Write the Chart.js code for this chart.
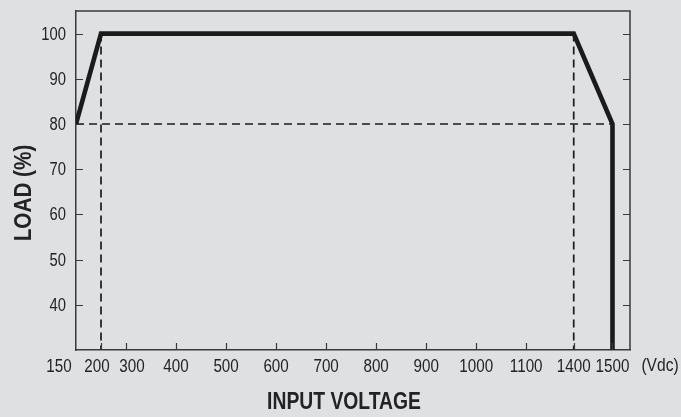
<!DOCTYPE html>
<html>
<head>
<meta charset="utf-8">
<script src="https://cdn.jsdelivr.net/npm/chart.js@4/dist/chart.umd.min.js"></script>
<style>
  html,body{margin:0;padding:0;background:#dfe0e2;}
</style>
</head>
<body>
<canvas id="chart" width="681" height="417"></canvas>
<script>
// derating curve (input voltage vs load)
const curveVolt = [150, 200, 1400, 1500, 1500];
const curveLoad = [80, 100, 100, 80, 30];

// dashed guide lines
const guide80Volt = [150, 1500];
const guide80Load = [80, 80];
const guide200Volt = [200, 200];
const guide200Load = [100, 30];
const guide1400Volt = [1400, 1400];
const guide1400Load = [100, 30];

// axis ticks
const xTickVolts = [150, 200, 300, 400, 500, 600, 700, 800, 900, 1000, 1100, 1400, 1500];
const yTickVals = [40, 50, 60, 70, 80, 90, 100];

// the voltage axis is not linear: each tick sits on its own stop
const xStops = [0, 1, 2, 4, 6, 8, 10, 12, 14, 16, 18, 19.9, 21.45];
const xStopMax = 22.15;

function voltToX(v){
  for(let i=0;i<xTickVolts.length-1;i++){
    const a=xTickVolts[i], b=xTickVolts[i+1];
    if(v>=a && v<=b) return xStops[i]+(v-a)/(b-a)*(xStops[i+1]-xStops[i]);
  }
  return v<xTickVolts[0] ? xStops[0] : xStops[xStops.length-1];
}
const pts = (vs, ls) => vs.map((v,i)=>({x:voltToX(v), y:ls[i]}));

const INK = "#1b1b1c";
const FRAME = "#3a3a3c";
const TEXT = "#232325";
const FONT = "'Liberation Sans', Arial, sans-serif";

// no narrow font installed, so squeeze the regular one
function narrowText(ctx, txt, x, y, font, align, sx){
  ctx.save();
  ctx.font = font;
  ctx.textAlign = align;
  ctx.textBaseline = "middle";
  ctx.translate(x, y);
  ctx.scale(sx, 1);
  ctx.fillText(txt, 0, 0);
  ctx.restore();
}

const dashed = (data) => ({
  data, showLine:true, borderColor:INK, borderWidth:1.7, borderDash:[8,5],
  pointRadius:0, fill:false, order:2
});

const framePlugin = {
  id:'frame',
  afterDraw(chart){
    const {ctx, chartArea:a, scales} = chart;
    const x = scales.x, y = scales.y;
    ctx.save();
    ctx.strokeStyle = FRAME;
    ctx.lineWidth = 1.5;
    // top + right border
    ctx.beginPath();
    ctx.moveTo(a.left, a.top); ctx.lineTo(a.right, a.top); ctx.lineTo(a.right, a.bottom);
    ctx.stroke();
    // inward ticks
    ctx.lineWidth = 1.2;
    ctx.beginPath();
    yTickVals.forEach(v=>{
      const py = Math.round(y.getPixelForValue(v))+0.5;
      ctx.moveTo(a.left, py); ctx.lineTo(a.left+7, py);
      ctx.moveTo(a.right-7, py); ctx.lineTo(a.right, py);
    });
    xTickVolts.slice(1).forEach(v=>{
      const px = Math.round(x.getPixelForValue(voltToX(v)))+0.5;
      ctx.moveTo(px, a.bottom); ctx.lineTo(px, a.bottom-7);
    });
    ctx.stroke();

    ctx.fillStyle = TEXT;
    // y tick labels
    yTickVals.forEach(v=>{
      narrowText(ctx, String(v), a.left-10, y.getPixelForValue(v)+1, "18px "+FONT, "right", 0.82);
    });
    // x tick labels
    const nudge = {150:-17, 200:-4, 300:6};
    xTickVolts.forEach(v=>{
      const px = x.getPixelForValue(voltToX(v)) + (nudge[v]||0);
      narrowText(ctx, String(v), px, a.bottom+17, "19px "+FONT, "center", 0.8);
    });
    narrowText(ctx, "(Vdc)", 660, a.bottom+16, "19px "+FONT, "center", 0.82);

    // axis titles
    narrowText(ctx, "INPUT VOLTAGE", 344, 403, "bold 23px "+FONT, "center", 0.84);
    ctx.save();
    ctx.translate(25, 193);
    ctx.rotate(-Math.PI/2);
    narrowText(ctx, "LOAD (%)", 0, 0, "bold 23px "+FONT, "center", 0.9);
    ctx.restore();
    ctx.restore();
  }
};

new Chart(document.getElementById('chart'), {
  type:'scatter',
  data:{
    datasets:[
      dashed(pts(guide80Volt, guide80Load)),
      dashed(pts(guide200Volt, guide200Load)),
      dashed(pts(guide1400Volt, guide1400Load)),
      {
        data: pts(curveVolt, curveLoad), showLine:true, borderColor:INK, borderWidth:4.6,
        borderJoinStyle:'miter', pointRadius:0, fill:false, order:1
      }
    ]
  },
  options:{
    responsive:false,
    animation:false,
    devicePixelRatio:1,
    layout:{padding:{top:11, right:51, left:0, bottom:0}},
    plugins:{legend:{display:false}, tooltip:{enabled:false}},
    scales:{
      x:{
        type:'linear', min:0, max:xStopMax,
        grid:{display:false, drawTicks:false},
        border:{display:true, color:FRAME, width:1.5},
        ticks:{display:false},
        afterFit(s){ s.height = 67; }
      },
      y:{
        type:'linear', min:30, max:105,
        afterBuildTicks(s){ s.ticks = yTickVals.map(v=>({value:v})); },
        grid:{display:false, drawTicks:false},
        border:{display:true, color:FRAME, width:1.5},
        ticks:{display:false},
        afterFit(s){ s.width = 76; }
      }
    }
  },
  plugins:[framePlugin]
});
</script>
</body>
</html>
